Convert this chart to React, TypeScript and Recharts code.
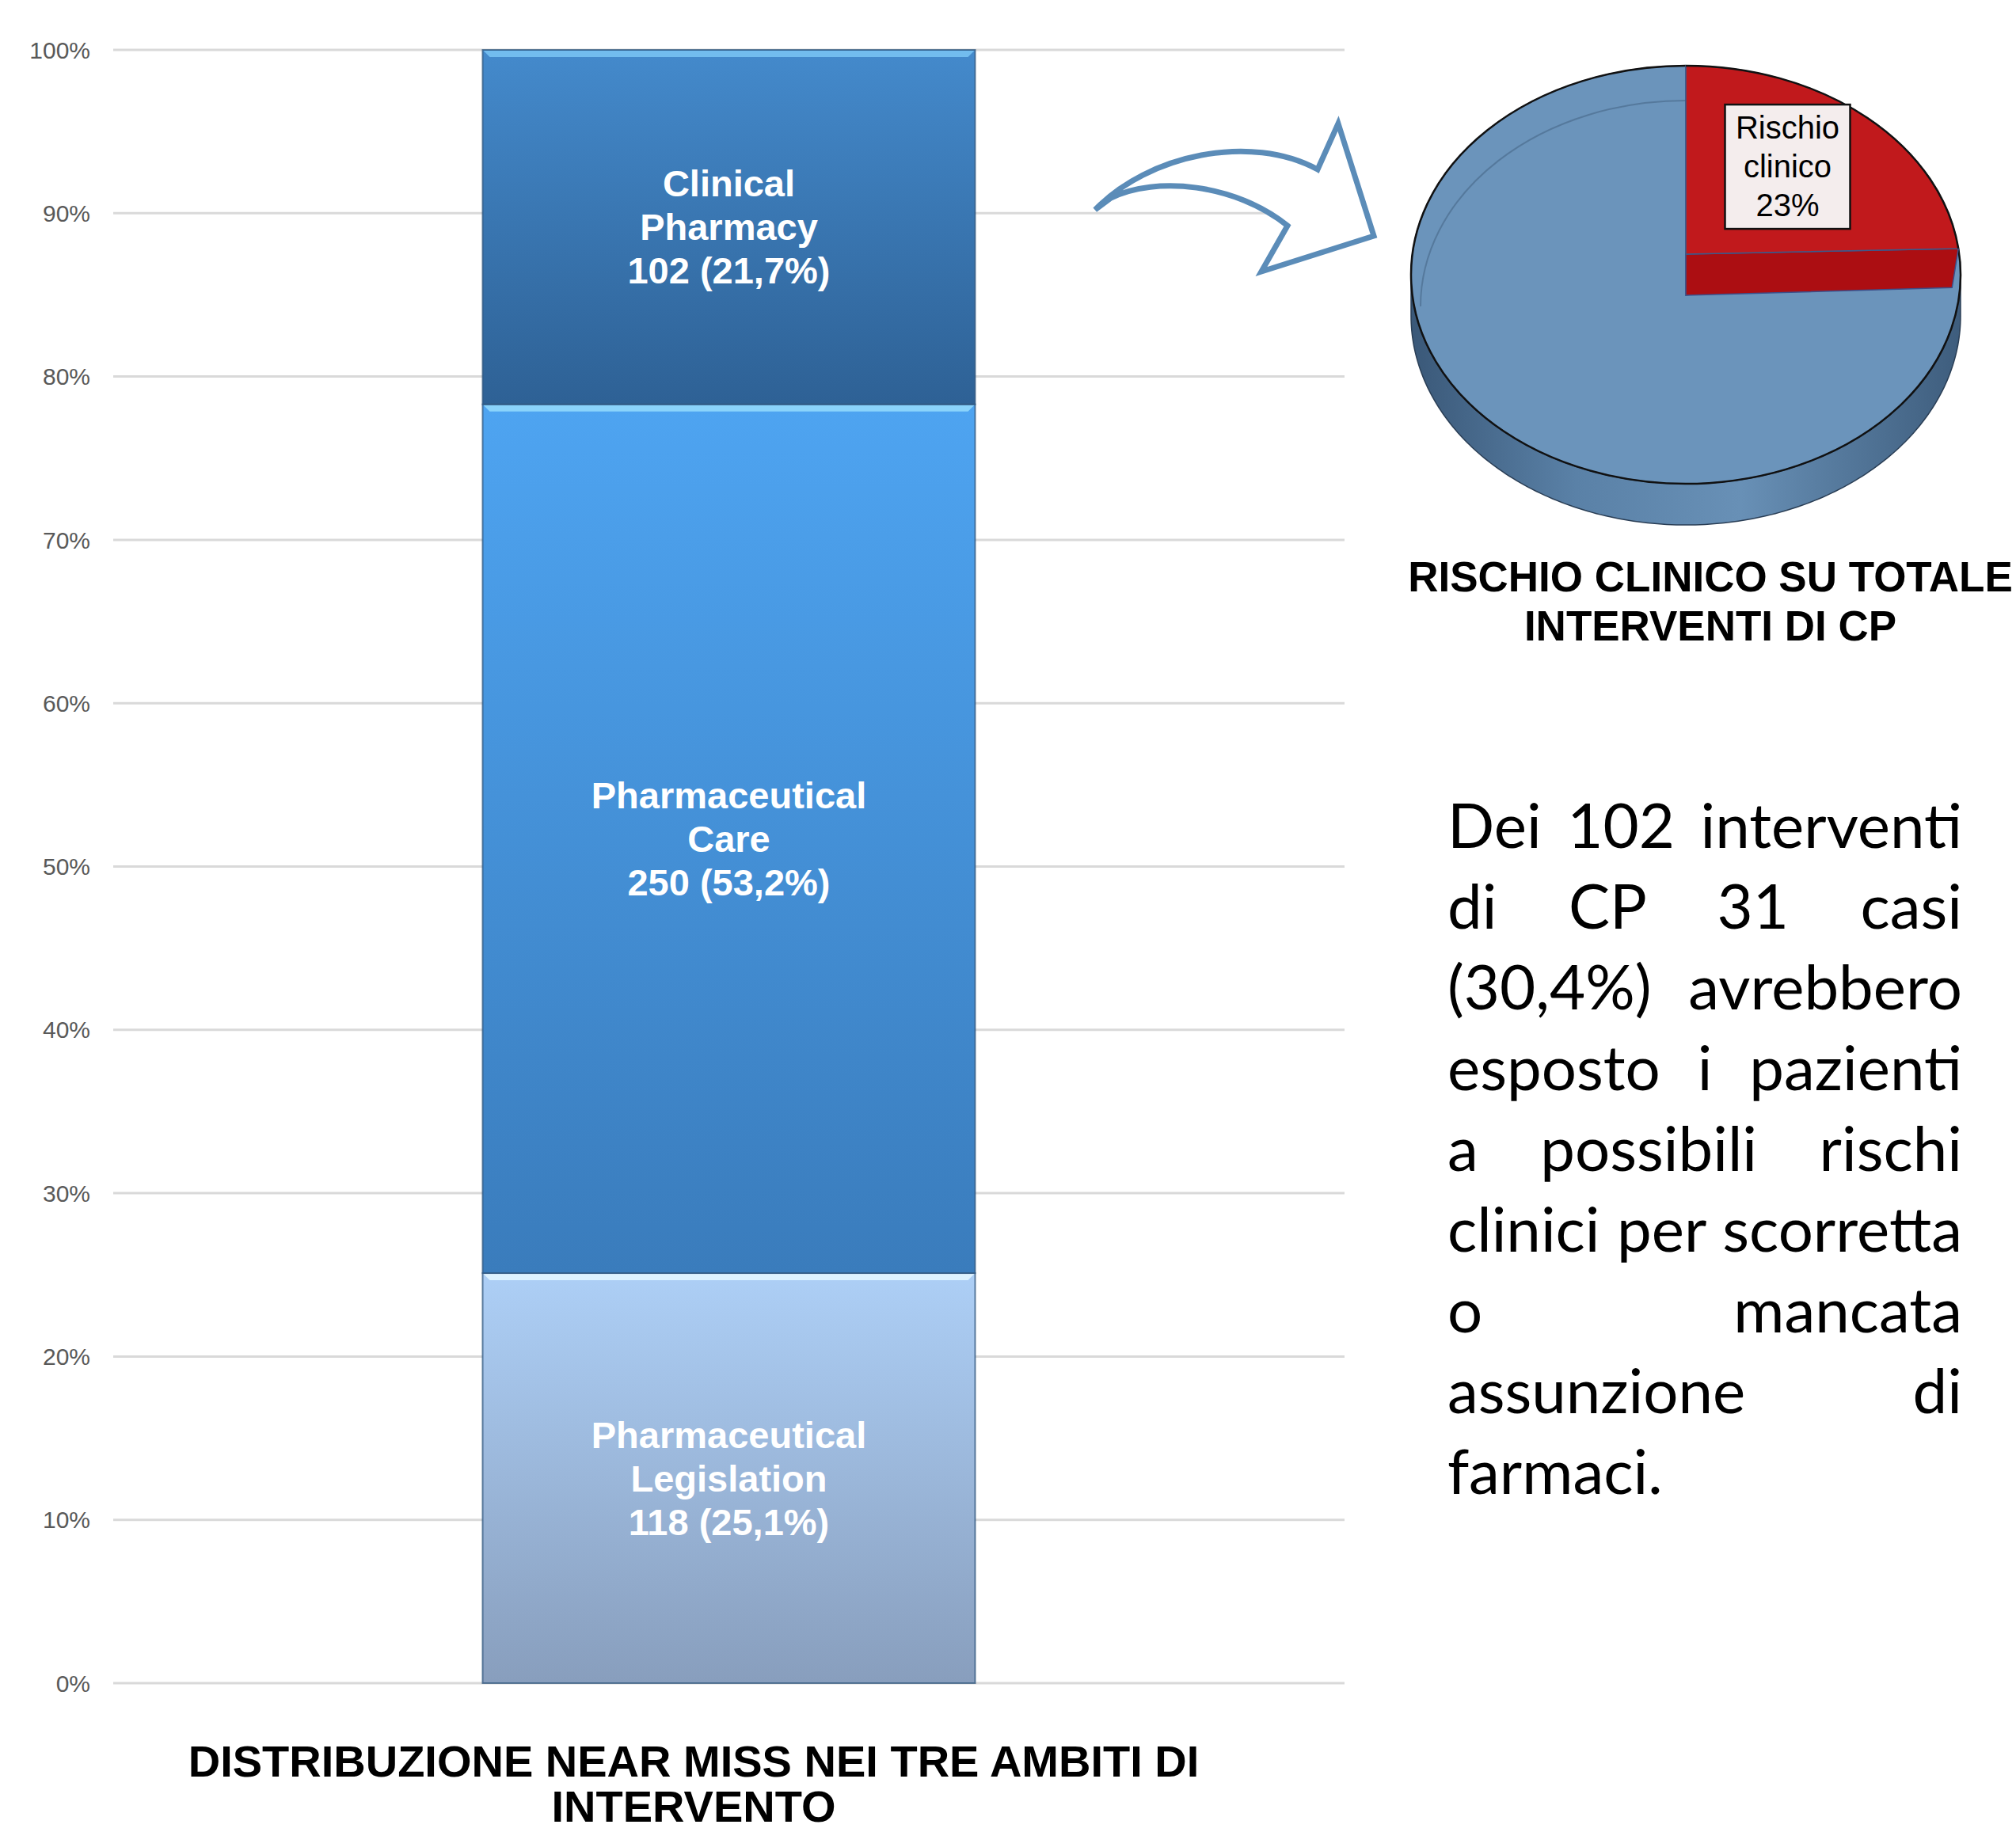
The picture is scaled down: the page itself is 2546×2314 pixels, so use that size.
import React from "react";
import { BarChart, Bar, XAxis, YAxis, CartesianGrid, LabelList, PieChart, Pie } from "recharts";

// --- dati del grafico a barre (near miss per ambito) ---
const categories = ["Near miss"];
const seriesKeys = ["legislation", "care", "clinical"];
const seriesNames = ["Pharmaceutical Legislation", "Pharmaceutical Care", "Clinical Pharmacy"];
const seriesValues = [118, 250, 102];
const yTicks = [0, 0.1, 0.2, 0.3, 0.4, 0.5, 0.6, 0.7, 0.8, 0.9, 1];

// --- dati della torta (rischio clinico su interventi CP) ---
const pieNames = ["Altri interventi", "Rischio clinico"];
const pieValues = [77, 23];

const barTitle = ["DISTRIBUZIONE NEAR MISS NEI TRE AMBITI DI", "INTERVENTO"];
const pieTitle = ["RISCHIO CLINICO SU TOTALE", "INTERVENTI DI CP"];
const noteLines = [
  "Dei 102 interventi",
  "di CP 31 casi",
  "(30,4%) avrebbero",
  "esposto i pazienti",
  "a possibili rischi",
  "clinici per scorretta",
  "o mancata",
  "assunzione di",
  "farmaci.",
];

const segTop = ["#ADCFF6", "#4EA4F1", "#448ACC"];
const segBottom = ["#889EBD", "#3A7CBC", "#2E6195"];
const segBevel = ["#DDF2FF", "#8AD3FB", "#72BCEE"];

const pieTopColors = ["#6B94BB", "#C1191C"];
const pieSideColors = ["#4F7396", "#AC0E12"];

const FONT = "'Liberation Sans', Arial, sans-serif";

const total = seriesValues.reduce((a, b) => a + b, 0);
const pct = (v: number) => ((v / total) * 100).toFixed(1).replace(".", ",");

const barData = categories.map((c) => {
  const row: any = { name: c };
  seriesKeys.forEach((k, i) => (row[k] = seriesValues[i]));
  return row;
});

const pieData = pieNames.map((n, i) => ({ name: n, value: pieValues[i] }));
const pieTotal = pieValues.reduce((a, b) => a + b, 0);
const raisedIndex = 1;
const pieStart = 90 - (360 * pieValues[raisedIndex]) / pieTotal;

const makeShape = (s: number) => (p: any) => {
  const { x, y, width, height } = p;
  if (!height || height <= 0) return <g />;
  const b = 9;
  return (
    <g>
      <rect x={x} y={y} width={width} height={height} fill={`url(#seg${s})`} stroke="#30577e" strokeOpacity={0.75} strokeWidth={2} />
      <polygon
        points={`${x + 1},${y + 1} ${x + width - 1},${y + 1} ${x + width - b},${y + b} ${x + b},${y + b}`}
        fill={segBevel[s]}
      />
    </g>
  );
};

const makeLabel = (s: number) => (p: any) => {
  const vb = p.viewBox && p.viewBox.width != null ? p.viewBox : p;
  const cx = vb.x + vb.width / 2;
  const cy = vb.y + vb.height / 2;
  const lines = [...seriesNames[s].split(" "), `${seriesValues[s]} (${pct(seriesValues[s])}%)`];
  const lh = 55;
  return (
    <text fill="#fff" fontFamily={FONT} fontWeight="bold" fontSize={47} textAnchor="middle">
      {lines.map((l, k) => (
        <tspan key={k} x={cx} y={cy + (k - (lines.length - 1) / 2) * lh} dominantBaseline="central">
          {l}
        </tspan>
      ))}
    </text>
  );
};

// --- torta 3D ---
const RAD = Math.PI / 180;
const TILT = 0.761;
const DEPTH = 52;

const ept = (cx: number, cy: number, rx: number, ry: number, a: number) => [
  cx + rx * Math.cos(a * RAD),
  cy - ry * Math.sin(a * RAD),
];

const renderSlice3D = (props: any) => {
  const { cx, cy, outerRadius, startAngle, endAngle, index } = props;
  const rx = outerRadius;
  const ry = outerRadius * TILT;
  const d = DEPTH;
  const raised = index === raisedIndex;
  const apexY = raised ? cy - d / 2 : cy + d / 2;
  const [sx, sy] = ept(cx, cy, rx, ry, startAngle);
  const [ex, ey] = ept(cx, cy, rx, ry, endAngle);
  const large = Math.abs(startAngle - endAngle) > 180 ? 1 : 0;
  const sweep = startAngle > endAngle ? 1 : 0;
  const arc = `M${sx},${sy} A${rx},${ry} 0 ${large} ${sweep} ${ex},${ey}`;
  const top = `M${cx},${apexY} L${sx},${sy} A${rx},${ry} 0 ${large} ${sweep} ${ex},${ey} Z`;

  // parete frontale
  const hi = Math.max(startAngle, endAngle);
  const lo = Math.min(startAngle, endAngle);
  const wallPts: number[][] = [];
  for (let a = Math.floor(hi); a >= Math.ceil(lo); a--) {
    if (Math.sin(a * RAD) <= 0.001) wallPts.push(ept(cx, cy, rx, ry, a));
  }
  let wall = "";
  if (wallPts.length > 1) {
    wall =
      "M" +
      wallPts.map((q) => `${q[0]},${q[1]}`).join(" L") +
      " L" +
      wallPts
        .slice()
        .reverse()
        .map((q) => `${q[0]},${q[1] + d}`)
        .join(" L") +
      " Z";
  }
  const gid = `wall${index}`;

  return (
    <g>
      <defs>
        <linearGradient id={gid} x1={cx - rx} y1={0} x2={cx + rx} y2={0} gradientUnits="userSpaceOnUse">
          <stop offset="0%" stopColor="#3A5878" />
          <stop offset="30%" stopColor="#5A81A7" />
          <stop offset="60%" stopColor={pieSideColors[index] === "#4F7396" ? "#6890B6" : pieSideColors[index]} />
          <stop offset="100%" stopColor="#3E5D7D" />
        </linearGradient>
      </defs>
      {wall && <path d={wall} fill={`url(#${gid})`} stroke="#2a3e55" strokeWidth={1.5} />}
      {raised && (
        <polygon
          points={`${cx},${apexY} ${ex},${ey} ${ex - 8},${ey + d * 0.95} ${cx},${apexY + d}`}
          fill={pieSideColors[index]}
          stroke="#3b4f8a"
          strokeWidth={1.5}
        />
      )}
      <path d={top} fill={pieTopColors[index]} stroke="#3b5a8c" strokeWidth={1.5} />
      <path d={arc} fill="none" stroke="#111" strokeWidth={2.5} />
      {!raised && (
        <path
          d={`M${cx - rx + 12},${cy + 40} A${rx - 12},${ry - 4} 0 0 1 ${cx},${cy + 40 - ry + 4}`}
          fill="none"
          stroke="#2d4763"
          strokeOpacity={0.35}
          strokeWidth={2}
        />
      )}
      {raised && (() => {
        const mid = (startAngle + endAngle) / 2;
        const bx = cx + 0.56 * rx * Math.cos(mid * RAD);
        const by = cy - d / 2 - 0.56 * ry * Math.sin(mid * RAD);
        const p = Math.round((pieValues[index] / pieTotal) * 100);
        const lines = [...pieNames[index].split(" "), `${p}%`];
        return (
          <g>
            <rect x={bx - 79} y={by - 78} width={158} height={157} fill="#F4EDED" stroke="#111" strokeWidth={2.5} />
            <text fontFamily={FONT} fontSize={40} fill="#000" textAnchor="middle">
              {lines.map((l, k) => (
                <tspan key={k} x={bx} y={by + (k - 1) * 49} dominantBaseline="central">
                  {l}
                </tspan>
              ))}
            </text>
          </g>
        );
      })()}
    </g>
  );
};

export default function App() {
  return (
    <div
      style={{
        position: "relative",
        width: 2546,
        height: 2314,
        overflow: "hidden",
        background: "#fff",
        fontFamily: FONT,
      }}
    >
      <style>{`body{margin:0}`}</style>

      <div style={{ position: "absolute", left: 0, top: 0 }}>
        <BarChart
          width={1720}
          height={2200}
          data={barData}
          stackOffset="expand"
          barCategoryGap="30%"
          margin={{ top: 63, right: 22, left: 0, bottom: 74 }}
        >
          <defs>
            {seriesKeys.map((k, i) => (
              <linearGradient key={k} id={`seg${i}`} x1="0" y1="0" x2="0" y2="1">
                <stop offset="0%" stopColor={segTop[i]} />
                <stop offset="100%" stopColor={segBottom[i]} />
              </linearGradient>
            ))}
          </defs>
          <CartesianGrid vertical={false} stroke="#D9D9D9" strokeWidth={3} />
          <XAxis dataKey="name" hide />
          <YAxis
            type="number"
            domain={[0, 1]}
            ticks={yTicks}
            width={143}
            axisLine={false}
            tickLine={false}
            tickSize={0}
            tickMargin={29}
            tickFormatter={(v: number) => `${Math.round(v * 100)}%`}
            tick={{ fill: "#595959", fontSize: 30, fontFamily: FONT }}
          />
          {seriesKeys.map((k, i) => (
            <Bar key={k} dataKey={k} stackId="a" shape={makeShape(i)} isAnimationActive={false}>
              <LabelList dataKey={k} content={makeLabel(i)} />
            </Bar>
          ))}
        </BarChart>
      </div>

      <div
        style={{
          position: "absolute",
          left: 176,
          top: 2196,
          width: 1400,
          textAlign: "center",
          fontWeight: "bold",
          fontSize: 56,
          lineHeight: "57px",
          color: "#000",
        }}
      >
        {barTitle.map((t) => (
          <div key={t}>{t}</div>
        ))}
      </div>

      <svg style={{ position: "absolute", left: 0, top: 0 }} width={2546} height={2314}>
        <path
          d="M1383,265 C1450,195 1580,168 1664,214 L1690,156 L1735,298 L1593,343 L1626,285 C1560,232 1460,222 1403,250 Z"
          fill="#fff"
          stroke="#5B8CB8"
          strokeWidth={7}
          strokeLinejoin="miter"
        />
      </svg>

      <div style={{ position: "absolute", left: 1740, top: 20 }}>
        <PieChart width={806} height={700}>
          <Pie
            data={pieData}
            dataKey="value"
            nameKey="name"
            cx={384}
            cy={322}
            outerRadius={347}
            startAngle={pieStart}
            endAngle={pieStart - 360}
            fill="none"
            stroke="none"
            label={renderSlice3D}
            labelLine={false}
            isAnimationActive={false}
          />
        </PieChart>
      </div>

      <div
        style={{
          position: "absolute",
          left: 1710,
          top: 698,
          width: 900,
          textAlign: "center",
          fontWeight: "bold",
          fontSize: 53,
          lineHeight: "62px",
          color: "#000",
          whiteSpace: "nowrap",
        }}
      >
        {pieTitle.map((t) => (
          <div key={t}>{t}</div>
        ))}
      </div>

      <div
        style={{
          position: "absolute",
          left: 1828,
          top: 990,
          width: 650,
          fontFamily: "Lato, 'Open Sans', sans-serif",
          fontSize: 78,
          lineHeight: "102px",
          color: "#000",
        }}
      >
        {noteLines.map((t, i) => (
          <div
            key={i}
            style={{
              textAlign: i === noteLines.length - 1 ? "left" : "justify",
              textAlignLast: i === noteLines.length - 1 ? "left" : "justify",
              whiteSpace: "nowrap",
            }}
          >
            {t}
          </div>
        ))}
      </div>
    </div>
  );
}
